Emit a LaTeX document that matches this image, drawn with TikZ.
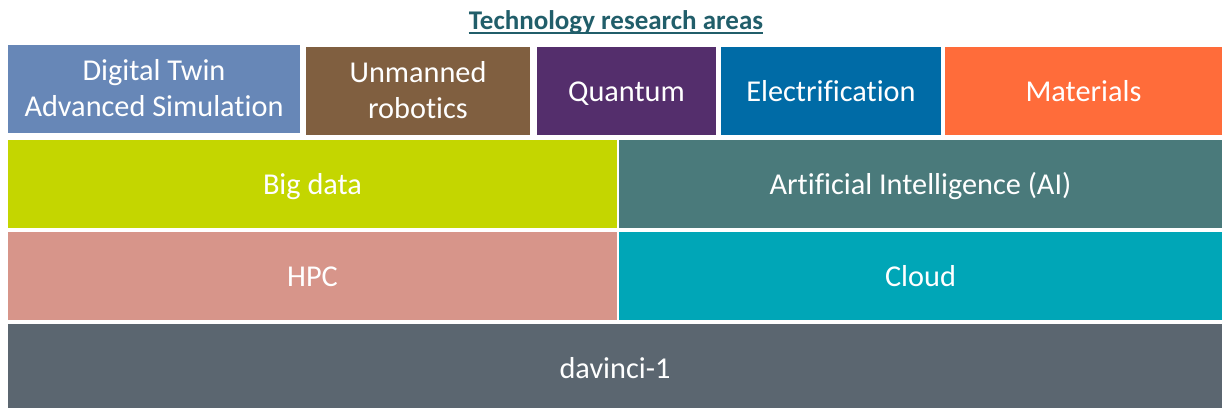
\documentclass[tikz,border=0pt]{standalone}
\usepackage{fontspec}
\setmainfont{Carlito}[Ligatures={NoCommon}]
\definecolor{cdt}{HTML}{6787B7}
\definecolor{cun}{HTML}{805F40}
\definecolor{cqu}{HTML}{542E6C}
\definecolor{cel}{HTML}{006BA6}
\definecolor{cma}{HTML}{FF6C3A}
\definecolor{cbd}{HTML}{C4D600}
\definecolor{cai}{HTML}{4A7A7B}
\definecolor{chp}{HTML}{D7958A}
\definecolor{ccl}{HTML}{00A6B7}
\definecolor{cdv}{HTML}{5B6670}
\definecolor{ctitle}{HTML}{215E6A}
\begin{document}
\begin{tikzpicture}[x=1pt,y=-1pt,
  box/.style={draw=none,inner sep=0pt,outer sep=0pt,anchor=north west,text=white,
    align=center,font=\fontsize{30.3}{36}\selectfont,text height=20pt,text depth=0pt},
  twoline/.style={text height=56pt,text depth=0.6pt},
]
\useasboundingbox (0,0) rectangle (1222,408);
\node[inner sep=0pt,anchor=base,text=ctitle,font=\bfseries\fontsize{27}{32}\selectfont] (title) at (616,29.3) {Technology research areas};
\draw[ctitle,line width=2.2pt] ([yshift=-3.7pt]title.base west) -- ([yshift=-3.7pt]title.base east);
\node[box,twoline,fill=cdt,minimum width=292pt,minimum height=88pt] (dt) at (8,45) {Digital Twin\\Advanced Simulation};
\node[box,twoline,fill=cun,minimum width=224pt,minimum height=88pt] (un) at (306,47) {Unmanned\\robotics};
\node[box,fill=cqu,minimum width=179pt,minimum height=88pt] (qu) at (537,47) {Quantum};
\node[box,fill=cel,minimum width=220pt,minimum height=88pt] (el) at (721,47) {Electrification};
\node[box,fill=cma,minimum width=277pt,minimum height=88pt] (ma) at (945,47) {Materials};
\node[box,fill=cbd,minimum width=609pt,minimum height=88pt] (bd) at (8,140) {Big data};
\node[box,fill=cai,minimum width=603pt,minimum height=88pt] (ai) at (619,140) {Artificial Intelligence (AI)};
\node[box,fill=chp,minimum width=609pt,minimum height=88pt] (hp) at (8,232) {HPC};
\node[box,fill=ccl,minimum width=603pt,minimum height=88pt] (cl) at (619,232) {Cloud};
\node[box,fill=cdv,minimum width=1214pt,minimum height=84pt,text height=24pt] (dv) at (8,324) {davinci-1};
\end{tikzpicture}
\end{document}
